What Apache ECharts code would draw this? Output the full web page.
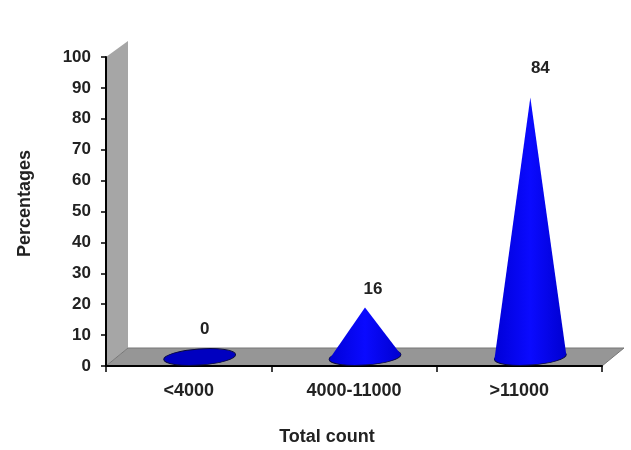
<!DOCTYPE html>
<html>
<head>
<meta charset="utf-8">
<style>
html, body { margin: 0; padding: 0; background: #fff; }
#chart { width: 631px; height: 450px; }
</style>
</head>
<body>
<div id="chart"></div>
<script src="https://cdn.jsdelivr.net/npm/echarts@6/dist/echarts.min.js"></script>
<script>
var categories = ['<4000', '4000-11000', '>11000'];
var percentages = [0, 16, 84];
var xTitle = 'Total count';
var yTitle = 'Percentages';

var fontFamily = '"Liberation Sans", Arial, sans-serif';
var depthX = 22, depthY = 18;
// label offset from the cone tip, one per category
var labelShift = [5, 8, 10];
var labelLift = [28, 18, 29];

var chart = echarts.init(document.getElementById('chart'));

function renderBox(params, api) {
    var o = api.coord([0, 0]);
    var size = api.size([1, 100]);
    o[0] -= size[0] / 2;
    var w = size[0] * categories.length, h = size[1];
    return {
        type: 'group',
        children: [
            { type: 'polygon', shape: { points: [[o[0], o[1]], [o[0], o[1] - h], [o[0] + depthX, o[1] - h - depthY + 2], [o[0] + depthX, o[1] - depthY]] }, style: { fill: '#a6a6a6' } },
            { type: 'polygon', shape: { points: [[o[0], o[1]], [o[0] + depthX, o[1] - depthY], [o[0] + w + depthX, o[1] - depthY], [o[0] + w, o[1]]] }, style: { fill: '#969696', stroke: '#777', lineWidth: 1 } }
        ]
    };
}

function renderCone(params, api) {
    var i = api.value(0), v = api.value(1);
    var base = api.coord([i, 0]);
    var top = api.coord([i, v]);
    var cx = base[0] + depthX / 2, cy = base[1] - depthY / 2;
    var rx = 36, ry = 8, tilt = 0.07;
    var ex = Math.cos(tilt) * rx, ey = Math.sin(tilt) * rx;
    var tipY = top[1] - depthY / 2;
    var fill = new echarts.graphic.LinearGradient(0, 0, 1, 0, [
        { offset: 0, color: '#0000d8' },
        { offset: 0.5, color: '#0a0aff' },
        { offset: 1, color: '#0000d0' }
    ]);
    var children = [
        { type: 'ellipse', shape: { cx: cx, cy: cy, rx: rx, ry: ry }, rotation: tilt, originX: cx, originY: cy,
          style: { fill: v > 0 ? fill : '#0000c0', stroke: '#0a0a40', lineWidth: 1 } }
    ];
    if (v > 0) {
        children.push({ type: 'polygon', shape: { points: [[cx - ex, cy + ey], [cx, tipY], [cx + ex, cy - ey]] }, style: { fill: fill } });
    }
    children.push({ type: 'text', x: cx + labelShift[i], y: tipY - labelLift[i],
        style: { text: String(v), fill: '#222', font: 'bold 17px ' + fontFamily, align: 'center', verticalAlign: 'middle' } });
    return { type: 'group', children: children };
}

chart.setOption({
    animation: false,
    backgroundColor: '#fff',
    grid: { left: 106, right: 29, top: 57, bottom: 84, outerBoundsMode: 'none' },
    xAxis: {
        type: 'category',
        z: 1.5,
        data: categories,
        name: xTitle,
        nameLocation: 'middle',
        nameGap: 62,
        nameTextStyle: { color: '#222', fontFamily: fontFamily, fontWeight: 'bold', fontSize: 18, padding: [0, 54, 0, 0] },
        axisLine: { lineStyle: { color: '#000', width: 2 } },
        axisTick: { show: true, length: 6, lineStyle: { color: '#000', width: 1.5 } },
        axisLabel: { color: '#222', fontFamily: fontFamily, fontWeight: 'bold', fontSize: 18, margin: 16 }
    },
    yAxis: {
        type: 'value',
        z: 1.5,
        min: 0,
        max: 100,
        interval: 10,
        name: yTitle,
        nameLocation: 'middle',
        nameGap: 72,
        nameTextStyle: { color: '#222', fontFamily: fontFamily, fontWeight: 'bold', fontSize: 18, padding: [0, 0, 0, 16] },
        splitLine: { show: false },
        axisLine: { show: true, lineStyle: { color: '#000', width: 2 } },
        axisTick: { show: true, length: 5, lineStyle: { color: '#000', width: 1.5 } },
        axisLabel: { color: '#222', fontFamily: fontFamily, fontWeight: 'bold', fontSize: 17, margin: 15 }
    },
    series: [
        { type: 'custom', renderItem: renderBox, data: [[0, 0]], clip: false, z: 1, silent: true },
        { type: 'custom', renderItem: renderCone, data: percentages.map(function (v, i) { return [i, v]; }), clip: false, z: 2,
          encode: { x: 0, y: 1 } }
    ]
});
</script>
</body>
</html>
